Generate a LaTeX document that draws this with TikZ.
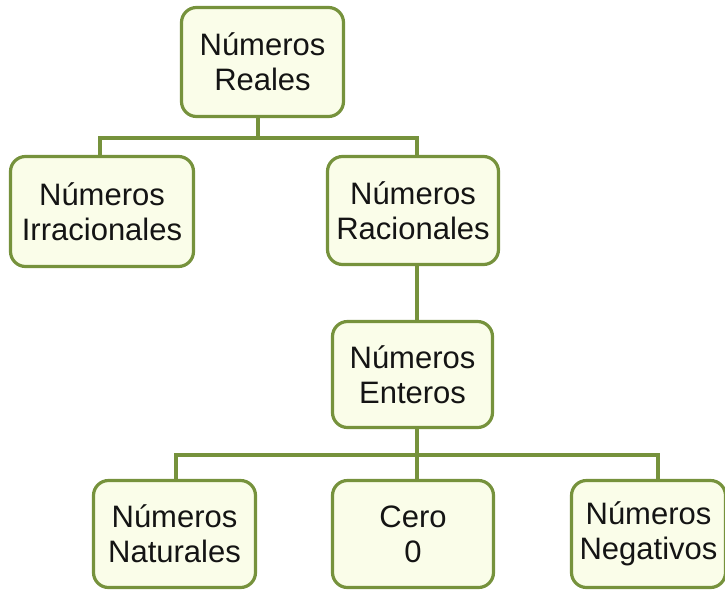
\documentclass[tikz,border=0pt]{standalone}
\usepackage{fontspec}
\setmainfont{Liberation Sans}
\definecolor{boxline}{HTML}{76923C}
\definecolor{boxfill}{HTML}{FAFDE9}
\definecolor{txt}{HTML}{141414}
\begin{document}
\begin{tikzpicture}[x=1pt,y=-1pt,
  box/.style={draw=boxline, fill=boxfill, line width=3.2pt, rounded corners=15pt,
    inner sep=0pt, align=center, text=txt, font=\fontsize{31}{35}\selectfont},
  link/.style={draw=boxline, line width=3.2pt}]
\useasboundingbox (0,0) rectangle (725,590);
\node[box, minimum width=162pt, minimum height=109pt] (reales) at (262.5,62) {Números\\Reales};
\node[box, minimum width=183pt, minimum height=110pt] (irr) at (102,211.5) {Números\\Irracionales};
\node[box, minimum width=171pt, minimum height=108pt] (rac) at (413,210.5) {Números\\Racionales};
\node[box, minimum width=160pt, minimum height=106pt] (ent) at (412.5,374.5) {Números\\Enteros};
\node[box, minimum width=162pt, minimum height=107pt] (nat) at (174.5,534) {Números\\Naturales};
\node[box, minimum width=161pt, minimum height=107pt] (cero) at (413,534) {Cero\\0};
\node[box, minimum width=154pt, minimum height=107pt] (neg) at (648.5,534) {Números\\Negativos};
\coordinate (bus1) at (258,138);
\coordinate (bus2) at (417,455);
\draw[link] ([xshift=-4.5pt]reales.south) -- (bus1);
\draw[link] ([xshift=-2pt]irr.north) |- (bus1) -| ([xshift=4pt]rac.north);
\draw[link] ([xshift=4pt]rac.south) -- ([xshift=4.5pt]ent.north);
\draw[link] ([xshift=4.5pt]ent.south) -- (bus2);
\draw[link] ([xshift=1.5pt]nat.north) |- (bus2) -| ([xshift=9.5pt]neg.north);
\draw[link] (bus2) -- ([xshift=4pt]cero.north);
\end{tikzpicture}
\end{document}
